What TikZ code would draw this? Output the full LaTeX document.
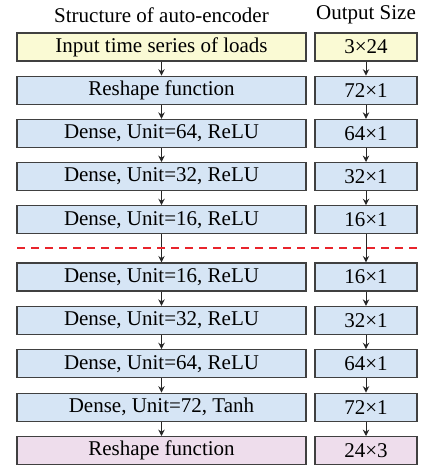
\documentclass[tikz,border=0pt]{standalone}
\usepackage{fontspec}
\setmainfont{Liberation Serif}
\usepackage{tikz}
\usetikzlibrary{arrows.meta}

\definecolor{inyellow}{RGB}{250,250,212}
\definecolor{layblue}{RGB}{214,229,245}
\definecolor{outpink}{RGB}{238,221,236}
\definecolor{boxline}{RGB}{64,64,64}
\definecolor{cutred}{RGB}{232,36,44}

\begin{document}
\begin{tikzpicture}[x=1pt,y=1pt,
  layer/.style={draw=boxline,line width=0.6pt,minimum height=14pt,inner sep=0pt,font=\fontsize{10.5}{12}\selectfont},
  wide/.style={layer,minimum width=144.5pt},
  narrow/.style={layer,minimum width=51pt},
  flow/.style={-{Stealth[length=3.2pt,width=3.2pt]},line width=0.5pt,draw=black!85}]
\useasboundingbox (0,0) rectangle (210,-233);
\node[font=\fontsize{10.5}{12}\selectfont] (head) at (80.75,-7.5) {Structure of auto-encoder};
\node[font=\fontsize{10.5}{12}\selectfont] (sizehead) at (183,-7.5) {Output Size};
% layers and their output sizes
\foreach \i/\y/\txt/\sz/\col in {
  1/23.5/{Input time series of loads}/3×24/inyellow,
  2/45.1/{Reshape function}/72×1/layblue,
  3/66.7/{Dense, Unit=64, ReLU}/64×1/layblue,
  4/88.3/{Dense, Unit=32, ReLU}/32×1/layblue,
  5/109.9/{Dense, Unit=16, ReLU}/16×1/layblue,
  6/138.5/{Dense, Unit=16, ReLU}/16×1/layblue,
  7/160.2/{Dense, Unit=32, ReLU}/32×1/layblue,
  8/181.9/{Dense, Unit=64, ReLU}/64×1/layblue,
  9/203.6/{Dense, Unit=72, Tanh}/72×1/layblue,
  10/225.3/{Reshape function}/24×3/outpink}{
  \node[wide,fill=\col] (L\i) at (80.75,-\y) {\txt};
  \node[narrow,fill=\col] (R\i) at (183,-\y) {\sz};
}
\foreach \i [evaluate=\i as \j using int(\i+1)] in {1,...,9}{
  \draw[flow] (L\i) -- (L\j);
  \draw[flow] (R\i) -- (R\j);
}
% encoder / decoder split
\draw[cutred,dashed,dash pattern=on 4pt off 3pt,line width=0.7pt] (8.5,-124) -- (210,-124);
\end{tikzpicture}
\end{document}
